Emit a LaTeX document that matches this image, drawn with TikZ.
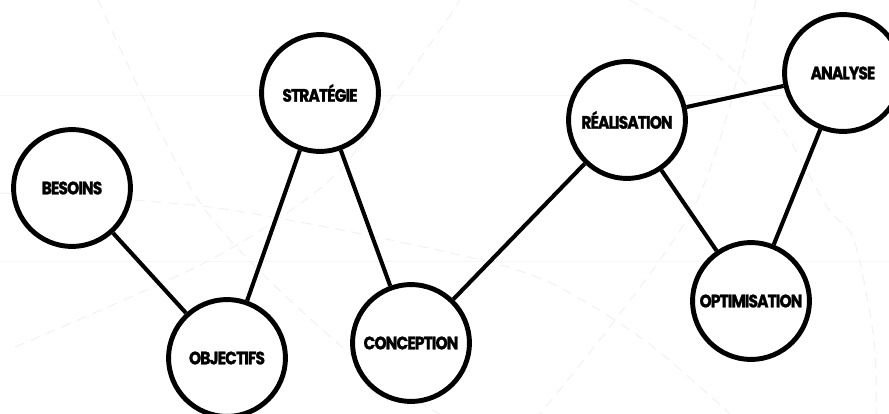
\documentclass[tikz,border=0pt]{standalone}
\usepackage{fontspec}
\setmainfont{Poppins}[FakeStretch=0.86,LetterSpace=-5,BoldFeatures={FakeBold=1.3}]
\usepackage{tikz}
\usetikzlibrary{positioning}

\tikzset{
  etape/.style={circle,draw=black,line width=3.5pt,fill=white,minimum size=2.92cm,inner sep=0pt,font=\bfseries\fontsize{12.8}{14}\selectfont},
  lien/.style={line width=2.9pt,black},
  fond/.style={gray!11,line width=0.7pt,dash pattern=on 7pt off 5pt}
}

\begin{document}
\begin{tikzpicture}[x=0.025cm,y=-0.025cm]
\useasboundingbox (0,0) rectangle (889,414);
\clip (0,0) rectangle (889,414);
\fill[white] (0,0) rectangle (889,414);

% Background guides
\draw[gray!7,line width=0.6pt] (0,95) -- (889,95);
\draw[gray!7,line width=0.6pt] (0,261) -- (889,261);
\draw[fond] plot[smooth] coordinates {(98,0) (203,207) (350,354) (440,414)};
\draw[fond] plot[smooth] coordinates {(15,347) (210,260) (330,180) (392,97) (440,30) (460,0)};
\draw[fond] plot[smooth] coordinates {(0,193) (210,207) (433,249) (544,280) (644,340) (730,414)};
\draw[fond] plot[smooth] coordinates {(630,0) (711,50) (777,120) (827,207) (854,240) (874,340) (876,414)};
\draw[fond] plot[smooth] coordinates {(756,0) (694,207) (540,414)};

% Steps
\node[etape] (besoins) at (72,188) {BESOINS};
\node[etape] (strategie) at (320,93) {STRATÉGIE};
\node[etape] (objectifs) at (227,358) {OBJECTIFS};
\node[etape] (conception) at (411,343) {CONCEPTION};
\node[etape] (realisation) at (627,120) {RÉALISATION};
\node[etape] (analyse) at (843,73) {ANALYSE};
\node[etape] (optimisation) at (751,301) {OPTIMISATION};

% Links
\draw[lien] (besoins) -- (objectifs);
\draw[lien] (objectifs) -- (strategie);
\draw[lien] (strategie) -- (conception);
\draw[lien] (conception) -- (realisation);
\draw[lien] (realisation) -- (analyse);
\draw[lien] (realisation) -- (optimisation);
\draw[lien] (analyse) -- (optimisation);
\end{tikzpicture}
\end{document}
